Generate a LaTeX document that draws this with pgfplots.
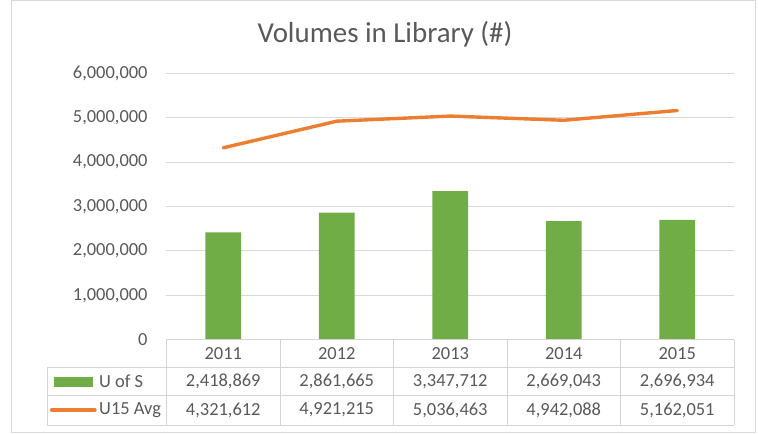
\documentclass[border=0pt]{standalone}
\usepackage{pgfplots}
\pgfplotsset{compat=1.18}
\usepackage{fontspec}
\setmainfont{Carlito}
\definecolor{barg}{HTML}{70AD47}
\definecolor{lineo}{HTML}{ED7D31}
\definecolor{txt}{HTML}{595959}
\definecolor{grd}{HTML}{D9D9D9}
\definecolor{tbl}{HTML}{D4D4D4}
\newcommand{\tf}{\fontsize{18.5}{20}\selectfont}
\begin{document}
\begin{tikzpicture}[x=1bp,y=1bp]
\path[use as bounding box] (-166.5,339.7) rectangle (591.5,-94.3);
\draw[grd, line width=0.9bp] (-155,339.2) rectangle (589,-92.8);
\begin{axis}[at={(0,0)}, anchor=south west, scale only axis,
  width=567.5bp, height=266.4bp,
  xmin=0, xmax=5, ymin=0, ymax=6000000,
  axis line style={draw=none}, major tick length=0pt,
  xtick=\empty,
  ytick={0,1000000,2000000,3000000,4000000,5000000,6000000},
  scaled y ticks=false,
  ymajorgrids, grid style={grd, line width=0.9bp},
  yticklabel style={font=\tf, text=txt, inner sep=0pt, anchor=east, xshift=-18.8bp,
    /pgf/number format/.cd, fixed, precision=0, 1000 sep={,}, assume math mode=true},
  clip=false]
\addplot[ybar, bar width=35.7bp, fill=barg, draw=none]
  coordinates {(0.5,2418869) (1.5,2861665) (2.5,3347712) (3.5,2669043) (4.5,2696934)};
\addplot[lineo, line width=3.4bp, line cap=round, line join=round]
  coordinates {(0.5,4321612) (1.5,4921215) (2.5,5036463) (3.5,4942088) (4.5,5162051)};
\end{axis}
\node[anchor=base, font=\fontsize{29}{31}\selectfont, text=txt] at (218.5,297.4) {Volumes in Library (\#)};
\begin{scope}[tbl, line width=0.9bp]
\draw (0,0) -- (567.5,0);
\foreach \y in {-27.6,-56,-85.3} \draw (-119.2,\y) -- (567.5,\y);
\draw (-119.2,-27.6) -- (-119.2,-85.3);
\foreach \k in {0,...,5} \draw (\k*113.5,0) -- (\k*113.5,-85.3);
\end{scope}
\fill[barg] (-112.5,-37) rectangle (-73.2,-47);
\draw[lineo, line width=3.4bp, line cap=round] (-114.8,-70.3) -- (-71.5,-70.3);
\begin{scope}[every node/.style={font=\tf, text=txt, inner sep=0pt}]
\node[anchor=west] at (-67.5,-41.8) {U of S};
\node[anchor=west] at (-67.5,-70.3) {U15 Avg};
\foreach \lab [count=\i from 0] in {2011,2012,2013,2014,2015}
  \node at (56.75+\i*113.5,-13.8) {\lab};
\foreach \lab [count=\i from 0] in {2{,}418{,}869,2{,}861{,}665,3{,}347{,}712,2{,}669{,}043,2{,}696{,}934}
  \node at (56.75+\i*113.5,-41.8) {\lab};
\foreach \lab [count=\i from 0] in {4{,}321{,}612,4{,}921{,}215,5{,}036{,}463,4{,}942{,}088,5{,}162{,}051}
  \node at (56.75+\i*113.5,-70.3) {\lab};
\end{scope}
\end{tikzpicture}
\end{document}
